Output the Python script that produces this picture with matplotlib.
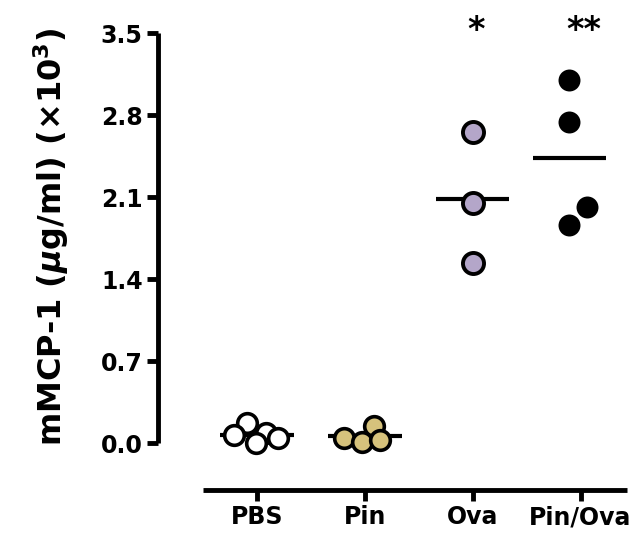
import matplotlib
matplotlib.use("Agg")
import matplotlib.pyplot as plt
import numpy as np

plt.rcParams["font.family"] = ["DejaVu Sans"]
plt.rcParams["mathtext.fontset"] = "custom"
plt.rcParams["mathtext.rm"] = "DejaVu Sans:bold"
plt.rcParams["mathtext.it"] = "DejaVu Sans:italic:bold"
plt.rcParams["mathtext.bf"] = "DejaVu Sans:bold"

# ── Data (x10^3 ug/ml) ───────────────────────────────────────────────────────
groups = ["PBS", "Pin", "Ova", "Pin/Ova"]
pbs_vals     = [0.17, 0.07, 0.085, 0.00, 0.04]
pbs_offsets  = [-0.09, -0.21, 0.08, -0.01, 0.19]
pin_vals     = [0.04, 0.15, 0.01, 0.03]
pin_offsets  = [-0.19, 0.08, -0.03, 0.14]
ova_vals     = [2.66, 2.05, 1.54]
ova_offsets  = [0.0, 0.0, 0.0]
pinova_vals    = [3.10, 2.74, 2.02, 1.86]
pinova_offsets = [-0.11, -0.11, 0.06, -0.11]
stars = ["", "", "*", "**"]

# ── Styles ───────────────────────────────────────────────────────────────────
C_PBS = "white"
C_PIN = "#d6c27c"
C_OVA = "#b4a6c9"
C_PINOVA = "black"

series = [
    (pbs_vals, pbs_offsets, C_PBS, "black", 200, 2.6, 0.0),
    (pin_vals, pin_offsets, C_PIN, "black", 200, 2.6, 0.0),
    (ova_vals, ova_offsets, C_OVA, "black", 230, 2.8, 0.0),
    (pinova_vals, pinova_offsets, C_PINOVA, "black", 250, 0.0, -0.1),
]

fig = plt.figure(figsize=(6.42, 5.35), dpi=100)
ax = fig.add_axes([0.246, 0.0841, 0.7305, 0.854])

for i, (vals, offs, fc, ec, s, lw, mshift) in enumerate(series):
    xs = i + np.array(offs)
    ax.scatter(xs, vals, s=s, facecolor=fc, edgecolor=ec, linewidth=lw,
               zorder=3, clip_on=False)
    m = np.mean(vals)
    ax.plot([i + mshift - 0.34, i + mshift + 0.34], [m, m], color="black",
            lw=3, solid_capstyle="butt", zorder=2)
    if stars[i]:
        ax.text(i + 0.03, 3.52, stars[i], ha="center", va="center",
                fontsize=24, fontweight="bold")

ax.set_xlim(-0.92, 3.43)
ax.set_ylim(-0.40, 3.5)

ax.spines["top"].set_visible(False)
ax.spines["right"].set_visible(False)
ax.spines["left"].set_bounds(0, 3.5)
ax.spines["bottom"].set_bounds(-0.5, 3.43)
for sp in ("left", "bottom"):
    ax.spines[sp].set_linewidth(3.5)
    ax.spines[sp].set_capstyle("butt")

ax.set_yticks([0.0, 0.7, 1.4, 2.1, 2.8, 3.5])
ax.set_yticklabels(["0.0", "0.7", "1.4", "2.1", "2.8", "3.5"])
ax.set_xticks(range(len(groups)))
ax.set_xticklabels(groups)
ax.tick_params(axis="both", direction="out", length=8, width=3.5,
               labelsize=17, pad=3)
for lab in ax.get_xticklabels() + ax.get_yticklabels():
    lab.set_fontweight("bold")

ax.set_ylabel(r"mMCP-1 ($\mu$g/ml) ($\times$10$^{3}$)", fontsize=23,
              fontweight="bold")
ax.yaxis.set_label_coords(-0.185, 0.555)

fig.savefig("out.png", dpi=100)
